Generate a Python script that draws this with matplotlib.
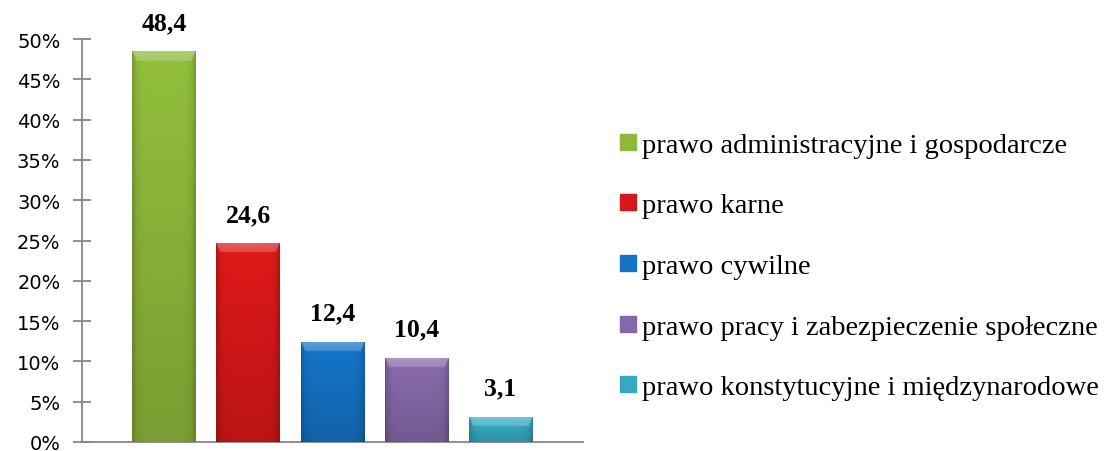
"""Bar chart: share of cases by branch of law."""

import numpy as np
import matplotlib
matplotlib.use('Agg')
import matplotlib.pyplot as plt
from matplotlib.lines import Line2D
from matplotlib.ticker import FuncFormatter

# Data
categories = ['prawo administracyjne i gospodarcze',
              'prawo karne',
              'prawo cywilne',
              'prawo pracy i zabezpieczenie społeczne',
              'prawo konstytucyjne i międzynarodowe']
values = [48.4, 24.6, 12.4, 10.4, 3.1]
value_labels = ['48,4', '24,6', '12,4', '10,4', '3,1']
colors = ['#8db83a', '#d81818', '#1472c4', '#8668a8', '#36a9c2']
y_ticks = [0, 5, 10, 15, 20, 25, 30, 35, 40, 45, 50]


def shaded_bar(axes, patch, color):
    """Overlay a bevelled gradient on a bar patch."""
    base = np.array(matplotlib.colors.to_rgb(color))
    x0, w, h = patch.get_x(), patch.get_width(), patch.get_height()
    rows, cols = 400, 80
    xs = np.linspace(-1, 1, cols)
    horiz = 1.0 - 0.2 * np.abs(xs) ** 8
    ys = np.linspace(1, 0, rows)
    vert = 0.86 + 0.18 * ys
    img = base[None, None, :] * (vert[:, None, None] * horiz[None, :, None])
    # light bevel along the top edge
    cap = min(1.1 / h, 0.5)
    light = base + (1 - base) * 0.4
    for i, yv in enumerate(ys):
        depth = (1 - yv) / cap
        if depth < 1:
            inner = np.abs(xs) < 1 - 0.12 * depth
            mix = 0.5 + 0.5 * depth
            img[i, inner] = light * (1 - mix * 0.5) + img[i, inner] * mix * 0.5
    img = np.clip(img, 0, 1)
    axes.imshow(img, extent=(x0, x0 + w, 0, h), aspect='auto',
                interpolation='bilinear', zorder=3)


def main():
    fig = plt.figure(figsize=(11.13, 4.52), dpi=100)
    axes = fig.add_axes([82 / 1113, 9 / 452, (583 - 82) / 1113,
                         (443 - 40) / 452])

    xpos = np.arange(len(values))
    bars = axes.bar(xpos, values, width=0.76, color=colors, zorder=2)
    for patch, color in zip(bars, colors):
        shaded_bar(axes, patch, color)

    for x, v, lab in zip(xpos, values, value_labels):
        axes.annotate(lab, (x, v), xytext=(0, 21), textcoords='offset points',
                      ha='center', va='center', fontsize=18.5,
                      fontweight='bold', family='Liberation Serif')

    axes.set_xlim(-0.98, 4.98)
    axes.set_ylim(0, 50)
    axes.set_yticks(y_ticks)
    axes.yaxis.set_major_formatter(FuncFormatter(lambda v, p: f'{v:.0f}%'))
    axes.set_xticks([])
    axes.spines['top'].set_visible(False)
    axes.spines['right'].set_visible(False)
    for side in ('left', 'bottom'):
        axes.spines[side].set_color('#868686')
        axes.spines[side].set_linewidth(1.3)
    axes.tick_params(axis='y', direction='inout', length=13, width=1.3,
                     color='#868686', labelsize=14, pad=9)
    axes.patch.set_alpha(0)

    handles = [Line2D([], [], marker='s', linestyle='none', markersize=11,
                      markerfacecolor=c, markeredgecolor=c) for c in colors]
    fig.legend(handles, categories, loc='center left',
               bbox_to_anchor=(619 / 1113, 1 - 267 / 452), frameon=False,
               prop={'family': 'Liberation Serif', 'size': 20.5},
               handlelength=0.6, handletextpad=0.2, labelspacing=1.22,
               borderpad=0, borderaxespad=0)

    fig.savefig('out.png', dpi=100)
    plt.close(fig)


if __name__ == '__main__':
    main()
